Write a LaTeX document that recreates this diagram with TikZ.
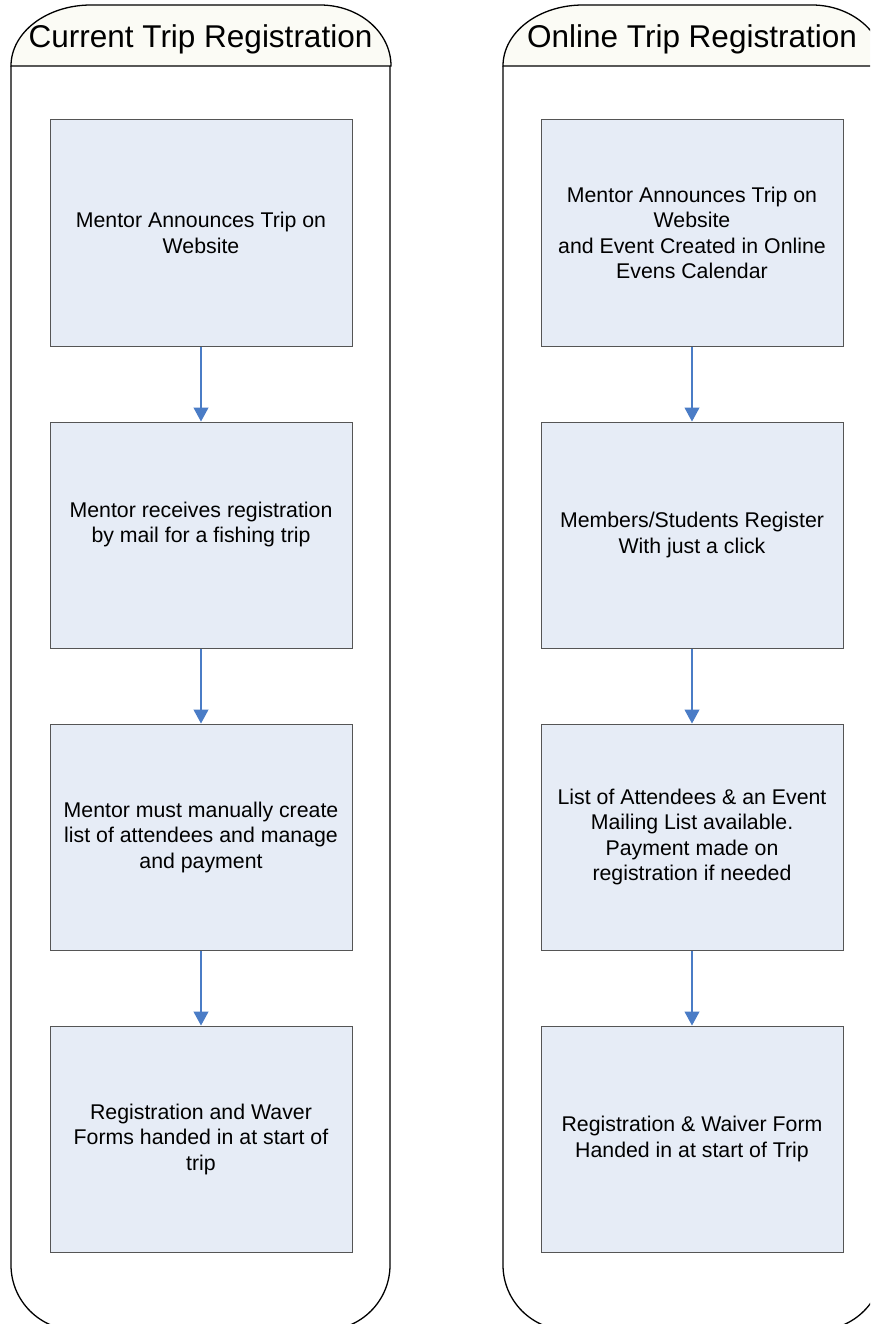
\documentclass[tikz,border=0pt]{standalone}
\usepackage{fontspec}
\setmainfont{Liberation Sans}
\usetikzlibrary{arrows.meta}
\definecolor{boxfill}{RGB}{230,236,246}
\definecolor{boxline}{RGB}{85,85,85}
\definecolor{arrowblue}{RGB}{74,124,198}
\definecolor{headfill}{RGB}{251,251,245}
\tikzset{
  lane/.style={draw=black, line width=1.3pt},
  header/.style={draw=black, line width=1.3pt, fill=headfill},
  headtext/.style={font=\fontsize{31.5}{36}\selectfont, inner sep=0pt, anchor=base},
  stepbox/.style={draw=boxline, line width=1pt, fill=boxfill, minimum width=302pt, minimum height=226pt,
    align=center, inner sep=0pt, font=\fontsize{21.3}{25.5}\selectfont},
  flow/.style={draw=arrowblue, line width=1.1pt, -{Triangle[width=15pt,length=14pt]}}
}
\begin{document}
\begin{tikzpicture}[x=1pt,y=-1pt]
\clip (0,0) rectangle (870,1324);
\fill[white] (0,0) rectangle (870,1324);
% left lane
\draw[lane, rounded corners=65pt] (11,66) -- (11,1330) -- (390,1330) -- (390,66);
\filldraw[header] (11,66) .. controls (11,32) and (47,5) .. (91,5) -- (320,5)
  .. controls (359,5) and (391,32) .. (391,66) -- cycle;
\node[headtext] (h1) at (200.5,48) {Current Trip Registration};
% right lane
\draw[lane, rounded corners=65pt] (503,66) -- (503,1330) -- (883,1330) -- (883,66);
\filldraw[header] (503,66) .. controls (503,32) and (539,5) .. (583,5) -- (812,5)
  .. controls (851,5) and (884,32) .. (884,66) -- cycle;
\node[headtext] (h2) at (692,48) {Online Trip Registration};
% left boxes
\node[stepbox] (l1) at (201,233) {Mentor Announces Trip on\\Website};
\node[stepbox] (l2) at (201,535) {Mentor receives registration\\by mail for a fishing trip\\\mbox{}};
\node[stepbox] (l3) at (201,837) {Mentor must manually create\\list of attendees and manage\\and payment};
\node[stepbox] (l4) at (201,1139) {Registration and Waver\\Forms handed in at start of\\trip};
% right boxes
\node[stepbox] (r1) at (692,233) {Mentor Announces Trip on\\Website\\ and Event Created in Online\\Evens Calendar};
\node[stepbox] (r2) at (692,535) {Members/Students Register\\With just a click};
\node[stepbox] (r3) at (692,837) {List of Attendees \& an Event\\Mailing List available.\\Payment made on\\registration if needed};
\node[stepbox] (r4) at (692,1139) {Registration \& Waiver Form\\Handed in at start of Trip};
% arrows
\draw[flow] (l1) -- (l2);
\draw[flow] (l2) -- (l3);
\draw[flow] (l3) -- (l4);
\draw[flow] (r1) -- (r2);
\draw[flow] (r2) -- (r3);
\draw[flow] (r3) -- (r4);
\end{tikzpicture}
\end{document}
